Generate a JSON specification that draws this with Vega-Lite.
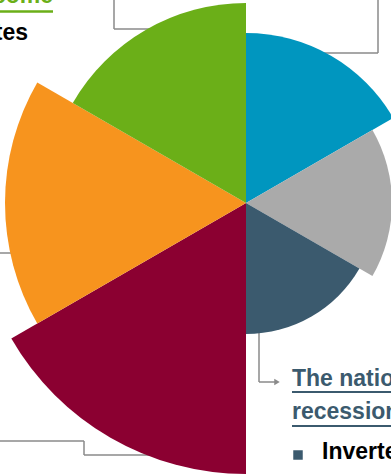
{
  "$schema": "https://vega.github.io/schema/vega-lite/v6.json",
  "width": 290,
  "height": 406,
  "autosize": "none",
  "padding": {"left": 101, "top": 0, "right": 0, "bottom": 69},
  "background": "white",
  "config": {"view": {"stroke": null}},
  "data": {"values": [{"note": "annotation"}]},
  "datasets": {
    "segments": [
      {"segment": "Blue", "start": 0, "end": 1, "value": 170},
      {"segment": "Gray", "start": 1, "end": 2, "value": 146},
      {"segment": "Slate", "start": 2, "end": 3, "value": 131},
      {"segment": "Maroon", "start": 3, "end": 4, "value": 271},
      {"segment": "Orange", "start": 4, "end": 5, "value": 241},
      {"segment": "Green", "start": 5, "end": 6, "value": 200}
    ]
  },
  "layer": [
    {"mark": {"type": "rule", "color": "#8a8a8a", "strokeWidth": 1.5},
     "encoding": {
       "x": {"datum": 114, "type": "quantitative", "scale": {"domain": [101, 391], "nice": false, "zero": false}, "axis": null},
       "y": {"datum": 0, "type": "quantitative", "scale": {"domain": [0, 406], "reverse": true, "nice": false, "zero": false}, "axis": null},
       "x2": {"datum": 114}, "y2": {"datum": 29}}},
    {"mark": {"type": "rule", "color": "#8a8a8a", "strokeWidth": 1.5},
     "encoding": {"x": {"datum": 114, "type": "quantitative"}, "y": {"datum": 29, "type": "quantitative"}, "x2": {"datum": 170}, "y2": {"datum": 29}}},
    {"mark": {"type": "rule", "color": "#8a8a8a", "strokeWidth": 1.5},
     "encoding": {"x": {"datum": 378, "type": "quantitative"}, "y": {"datum": 0, "type": "quantitative"}, "x2": {"datum": 378}, "y2": {"datum": 53}}},
    {"mark": {"type": "rule", "color": "#8a8a8a", "strokeWidth": 1.5},
     "encoding": {"x": {"datum": 300, "type": "quantitative"}, "y": {"datum": 53, "type": "quantitative"}, "x2": {"datum": 378}, "y2": {"datum": 53}}},
    {"mark": {"type": "rule", "color": "#8a8a8a", "strokeWidth": 1.5},
     "encoding": {"x": {"datum": 0, "type": "quantitative"}, "y": {"datum": 253, "type": "quantitative"}, "x2": {"datum": 40}, "y2": {"datum": 253}}},
    {"mark": {"type": "rule", "color": "#8a8a8a", "strokeWidth": 1.5},
     "encoding": {"x": {"datum": 0, "type": "quantitative"}, "y": {"datum": 441, "type": "quantitative"}, "x2": {"datum": 84}, "y2": {"datum": 441}}},
    {"mark": {"type": "rule", "color": "#8a8a8a", "strokeWidth": 1.5},
     "encoding": {"x": {"datum": 84, "type": "quantitative"}, "y": {"datum": 441, "type": "quantitative"}, "x2": {"datum": 84}, "y2": {"datum": 455}}},
    {"mark": {"type": "rule", "color": "#8a8a8a", "strokeWidth": 1.5},
     "encoding": {"x": {"datum": 84, "type": "quantitative"}, "y": {"datum": 455, "type": "quantitative"}, "x2": {"datum": 170}, "y2": {"datum": 455}}},
    {"mark": {"type": "rule", "color": "#8a8a8a", "strokeWidth": 1.5},
     "encoding": {"x": {"datum": 259, "type": "quantitative"}, "y": {"datum": 300, "type": "quantitative"}, "x2": {"datum": 259}, "y2": {"datum": 382}}},
    {"mark": {"type": "rule", "color": "#8a8a8a", "strokeWidth": 1.5},
     "encoding": {"x": {"datum": 259, "type": "quantitative"}, "y": {"datum": 382, "type": "quantitative"}, "x2": {"datum": 275}, "y2": {"datum": 382}}},
    {"mark": {"type": "point", "shape": "triangle-right", "filled": true, "color": "#8a8a8a", "size": 40, "opacity": 1},
     "encoding": {"x": {"datum": 277, "type": "quantitative"}, "y": {"datum": 382, "type": "quantitative"}}},
    {"data": {"name": "segments"},
     "mark": {"type": "arc", "stroke": null},
     "encoding": {
       "theta": {"field": "start", "type": "quantitative", "stack": null, "scale": {"domain": [0, 6], "range": [0, 6.283185307179586], "zero": true, "nice": false}},
       "theta2": {"field": "end"},
       "radius": {"field": "value", "type": "quantitative", "scale": {"type": "linear", "domain": [0, 271], "range": [0, 271], "zero": true, "nice": false}},
       "color": {"field": "segment", "type": "nominal", "legend": null,
         "scale": {"domain": ["Blue", "Gray", "Slate", "Maroon", "Orange", "Green"],
                   "range": ["#0096BF", "#AAAAAA", "#3B5A6E", "#8B0031", "#F7941E", "#6BAF18"]}}
     }},
    {"mark": {"type": "text", "text": "Income", "align": "right", "baseline": "alphabetic", "font": "Liberation Sans Narrow, Liberation Sans, Arial", "fontWeight": "bold", "fontSize": 23, "color": "#6BAF18"},
     "encoding": {"x": {"datum": 53, "type": "quantitative"}, "y": {"datum": 3, "type": "quantitative"}}},
    {"mark": {"type": "rule", "color": "#6BAF18", "strokeWidth": 2.5},
     "encoding": {"x": {"datum": 0, "type": "quantitative"}, "y": {"datum": 11.5, "type": "quantitative"}, "x2": {"datum": 53}, "y2": {"datum": 11.5}}},
    {"mark": {"type": "text", "text": "Rates", "align": "right", "baseline": "alphabetic", "font": "Liberation Sans Narrow, Liberation Sans, Arial", "fontWeight": "bold", "fontSize": 23, "color": "#000000"},
     "encoding": {"x": {"datum": 28, "type": "quantitative"}, "y": {"datum": 40, "type": "quantitative"}}},
    {"mark": {"type": "text", "text": "The national", "align": "left", "baseline": "alphabetic", "font": "Liberation Sans Narrow, Liberation Sans, Arial", "fontWeight": "bold", "fontSize": 23, "color": "#3B5A6E"},
     "encoding": {"x": {"datum": 292, "type": "quantitative"}, "y": {"datum": 386, "type": "quantitative"}}},
    {"mark": {"type": "rule", "color": "#3B5A6E", "strokeWidth": 2},
     "encoding": {"x": {"datum": 292, "type": "quantitative"}, "y": {"datum": 392, "type": "quantitative"}, "x2": {"datum": 391}, "y2": {"datum": 392}}},
    {"mark": {"type": "text", "text": "recession", "align": "left", "baseline": "alphabetic", "font": "Liberation Sans Narrow, Liberation Sans, Arial", "fontWeight": "bold", "fontSize": 23, "color": "#3B5A6E"},
     "encoding": {"x": {"datum": 292, "type": "quantitative"}, "y": {"datum": 419, "type": "quantitative"}}},
    {"mark": {"type": "rule", "color": "#3B5A6E", "strokeWidth": 2},
     "encoding": {"x": {"datum": 292, "type": "quantitative"}, "y": {"datum": 426, "type": "quantitative"}, "x2": {"datum": 391}, "y2": {"datum": 426}}},
    {"mark": {"type": "point", "shape": "square", "filled": true, "color": "#3B5A6E", "size": 90, "opacity": 1},
     "encoding": {"x": {"datum": 298, "type": "quantitative"}, "y": {"datum": 455, "type": "quantitative"}}},
    {"mark": {"type": "text", "text": "Inverted", "align": "left", "baseline": "alphabetic", "font": "Liberation Sans Narrow, Liberation Sans, Arial", "fontWeight": "bold", "fontSize": 23, "color": "#000000"},
     "encoding": {"x": {"datum": 322, "type": "quantitative"}, "y": {"datum": 459, "type": "quantitative"}}}
  ]
}
